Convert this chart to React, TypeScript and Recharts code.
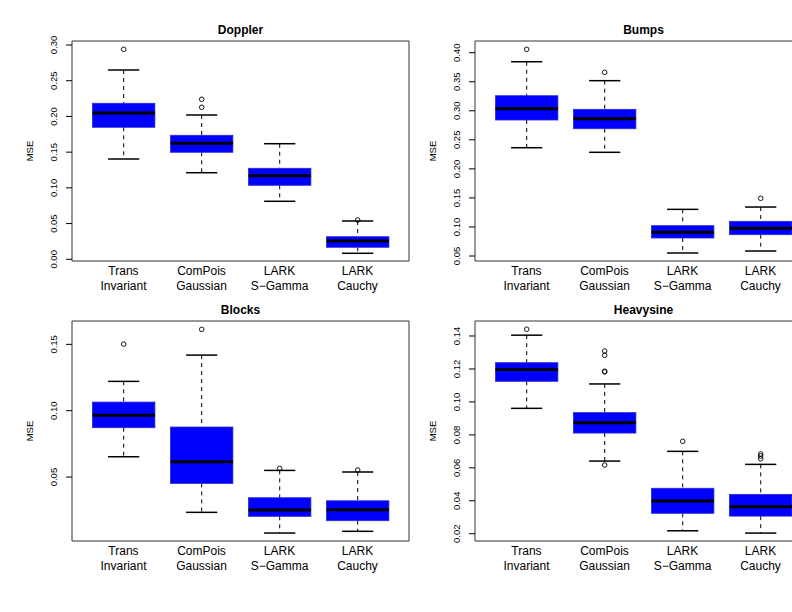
import React from 'react';
import { ComposedChart, Bar, XAxis, YAxis, ReferenceArea } from 'recharts';

const FONT = '"Liberation Sans", Arial, Helvetica, sans-serif';

const categories = ['Trans\nInvariant', 'ComPois\nGaussian', 'LARK\nS\u2212Gamma', 'LARK\nCauchy'];
const positions = [1, 2, 3, 4];
const xDomain = [0.34, 4.66];

// Doppler
const dopplerLower = [0.1404, 0.1212, 0.0812, 0.0084];
const dopplerQ1 = [0.1848, 0.1498, 0.1036, 0.0168];
const dopplerMedian = [0.2048, 0.1624, 0.117, 0.0256];
const dopplerQ3 = [0.2184, 0.1736, 0.1274, 0.0316];
const dopplerUpper = [0.265, 0.202, 0.1618, 0.0536];
const dopplerOutliers = [[0.294], [0.224, 0.2128], [], [0.055]];
const dopplerTicks = [0, 0.05, 0.1, 0.15, 0.2, 0.25, 0.3];
const dopplerDomain = [-0.0024, 0.3056];

// Bumps
const bumpsLower = [0.2364, 0.2285, 0.0552, 0.0586];
const bumpsQ1 = [0.2841, 0.2691, 0.081, 0.0867];
const bumpsMedian = [0.3035, 0.2863, 0.0908, 0.0977];
const bumpsQ3 = [0.3259, 0.3025, 0.1022, 0.1097];
const bumpsUpper = [0.3844, 0.3518, 0.1303, 0.1343];
const bumpsOutliers = [[0.4058], [0.3662], [], [0.1493]];
const bumpsTicks = [0.05, 0.1, 0.15, 0.2, 0.25, 0.3, 0.35, 0.4];
const bumpsDomain = [0.0414, 0.4201];

// Blocks
const blocksLower = [0.0653, 0.0234, 0.0078, 0.0091];
const blocksQ1 = [0.0872, 0.0452, 0.0204, 0.0171];
const blocksMedian = [0.0965, 0.0615, 0.0251, 0.0254];
const blocksQ3 = [0.1065, 0.0877, 0.0344, 0.0321];
const blocksUpper = [0.1221, 0.1419, 0.055, 0.0538];
const blocksOutliers = [[0.1502], [0.1613], [0.0565], [0.0553]];
const blocksTicks = [0.05, 0.1, 0.15];
const blocksDomain = [0.0018, 0.1676];

// Heavysine
const heavyLower = [0.0961, 0.0641, 0.0218, 0.0204];
const heavyQ1 = [0.1125, 0.0811, 0.0324, 0.0307];
const heavyMedian = [0.1196, 0.0874, 0.0399, 0.0364];
const heavyQ3 = [0.1238, 0.0935, 0.0476, 0.0439];
const heavyUpper = [0.1405, 0.1109, 0.07, 0.0621];
const heavyOutliers = [[0.1441], [0.1309, 0.1283, 0.1186, 0.1182, 0.0617], [0.0761], [0.0684, 0.0672, 0.0655]];
const heavyTicks = [0.02, 0.04, 0.06, 0.08, 0.1, 0.12, 0.14];
const heavyDomain = [0.0156, 0.1491];

function buildRows(lower: number[], q1: number[], median: number[], q3: number[], upper: number[], outliers: number[][]) {
  return categories.map((name, i) => ({
    name,
    pos: positions[i],
    lower: lower[i],
    q1: q1[i],
    median: median[i],
    q3: q3[i],
    upper: upper[i],
    outliers: outliers[i],
  }));
}

const BoxShape = (props: any) => {
  const { x, y, width, height } = props;
  const d = props.payload && props.payload.q1 !== undefined ? props.payload : props;
  const pTop = Math.min(y, y + height);
  const pBot = Math.max(y, y + height);
  const py = (v: number) => pBot - ((v - d.lower) / (d.upper - d.lower)) * (pBot - pTop);
  const cx = x + width / 2;
  const capHalf = width / 4;
  const yU = py(d.upper);
  const yL = py(d.lower);
  const yQ3 = py(d.q3);
  const yQ1 = py(d.q1);
  const yM = py(d.median);
  return (
    <g>
      <line x1={cx} x2={cx} y1={yU} y2={yQ3} stroke="#000" strokeWidth={1} strokeDasharray="4 4" />
      <line x1={cx} x2={cx} y1={yQ1} y2={yL} stroke="#000" strokeWidth={1} strokeDasharray="4 4" />
      <line x1={cx - capHalf} x2={cx + capHalf} y1={yU} y2={yU} stroke="#000" strokeWidth={1.5} />
      <line x1={cx - capHalf} x2={cx + capHalf} y1={yL} y2={yL} stroke="#000" strokeWidth={1.5} />
      <rect x={x} y={yQ3} width={width} height={yQ1 - yQ3} fill="#0000FF" stroke="#2a2ad0" strokeWidth={0.8} />
      <line x1={x} x2={x + width} y1={yM} y2={yM} stroke="#000" strokeWidth={3} />
      {(d.outliers || []).map((v: number, i: number) => (
        <circle key={i} cx={cx} cy={py(v)} r={2.3} fill="none" stroke="#000" strokeWidth={0.9} />
      ))}
    </g>
  );
};

const YTick = (props: any) => {
  const { x, y, payload } = props;
  return (
    <text
      x={x}
      y={y}
      transform={`rotate(-90, ${x}, ${y})`}
      textAnchor="middle"
      fontSize={9.5}
      fontFamily={FONT}
      fill="#000"
    >
      {Number(payload.value).toFixed(2)}
    </text>
  );
};

const XTick = (props: any) => {
  const { x, y, payload } = props;
  const idx = Math.round(payload.value) - 1;
  const label = categories[idx] || '';
  const lines = label.split('\n');
  return (
    <text textAnchor="middle" fontSize={12} fontFamily={FONT} fill="#000">
      {lines.map((l, i) => (
        <tspan key={i} x={x} y={y + 14.3 + i * 14.2}>
          {l}
        </tspan>
      ))}
    </text>
  );
};

const makeLabels = (title: string) => (p: any) => {
  const vb = p.viewBox || { x: 72, y: 41, width: 337, height: 220 };
  const mx = vb.x - 38.6;
  const my = vb.y + vb.height / 2;
  return (
    <g>
      <text
        x={vb.x + vb.width / 2}
        y={vb.y - 7.5}
        textAnchor="middle"
        fontSize={12}
        fontWeight="bold"
        fontFamily={FONT}
        fill="#000"
      >
        {title}
      </text>
      <text
        x={mx}
        y={my}
        transform={`rotate(-90, ${mx}, ${my})`}
        textAnchor="middle"
        fontSize={9.5}
        fontFamily={FONT}
        fill="#000"
      >
        MSE
      </text>
    </g>
  );
};

type PanelProps = {
  title: string;
  rows: any[];
  domain: number[];
  ticks: number[];
};

const Panel = ({ title, rows, domain, ticks }: PanelProps) => (
  <ComposedChart width={410} height={300} data={rows} margin={{ top: 41, right: 1, bottom: 0, left: 0 }}>
    <XAxis
      dataKey="pos"
      type="number"
      domain={xDomain}
      ticks={positions}
      allowDataOverflow
      axisLine={false}
      tickLine={false}
      tickSize={0}
      tickMargin={0}
      height={39}
      interval={0}
      tick={<XTick />}
    />
    <YAxis
      type="number"
      domain={domain}
      ticks={ticks}
      allowDataOverflow
      axisLine={false}
      tickLine={{ stroke: '#000', strokeWidth: 1 }}
      tickSize={6}
      tickMargin={9.3}
      width={72}
      interval={0}
      tick={<YTick />}
    />
    <ReferenceArea
      x1={xDomain[0]}
      x2={xDomain[1]}
      y1={domain[0]}
      y2={domain[1]}
      fill="none"
      fillOpacity={0}
      stroke="#333"
      strokeWidth={1}
      ifOverflow="visible"
      label={makeLabels(title)}
    />
    <Bar
      dataKey={(d: any) => [d.lower, d.upper]}
      barSize={62.4}
      isAnimationActive={false}
      shape={(p: any) => <BoxShape {...p} />}
    />
  </ComposedChart>
);

const dopplerRows = buildRows(dopplerLower, dopplerQ1, dopplerMedian, dopplerQ3, dopplerUpper, dopplerOutliers);
const bumpsRows = buildRows(bumpsLower, bumpsQ1, bumpsMedian, bumpsQ3, bumpsUpper, bumpsOutliers);
const blocksRows = buildRows(blocksLower, blocksQ1, blocksMedian, blocksQ3, blocksUpper, blocksOutliers);
const heavyRows = buildRows(heavyLower, heavyQ1, heavyMedian, heavyQ3, heavyUpper, heavyOutliers);

export default function App() {
  return (
    <div
      style={{
        position: 'fixed',
        left: 0,
        top: 0,
        width: 792,
        height: 612,
        overflow: 'hidden',
        background: '#fff',
      }}
    >
      <div style={{ position: 'absolute', left: 0, top: 0 }}>
        <Panel title="Doppler" rows={dopplerRows} domain={dopplerDomain} ticks={dopplerTicks} />
      </div>
      <div style={{ position: 'absolute', left: 403, top: 0 }}>
        <Panel title="Bumps" rows={bumpsRows} domain={bumpsDomain} ticks={bumpsTicks} />
      </div>
      <div style={{ position: 'absolute', left: 0, top: 280 }}>
        <Panel title="Blocks" rows={blocksRows} domain={blocksDomain} ticks={blocksTicks} />
      </div>
      <div style={{ position: 'absolute', left: 403, top: 280 }}>
        <Panel title="Heavysine" rows={heavyRows} domain={heavyDomain} ticks={heavyTicks} />
      </div>
    </div>
  );
}
